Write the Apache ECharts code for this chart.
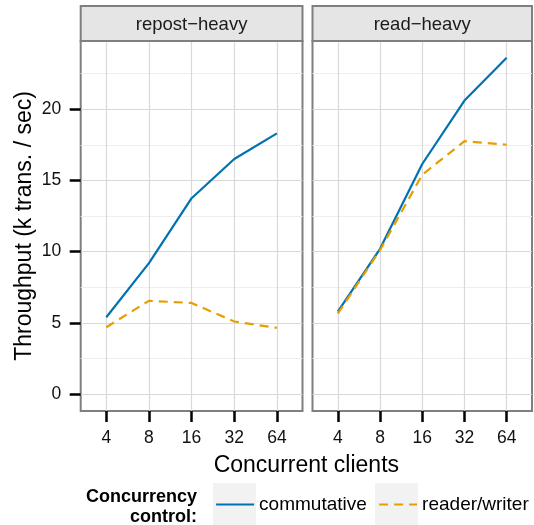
<!DOCTYPE html>
<html><head><meta charset="utf-8">
<script src="https://cdn.jsdelivr.net/npm/echarts@6/dist/echarts.min.js"></script>
<style>html,body{margin:0;padding:0;background:#fff}#c{width:534px;height:525px}</style>
</head><body><div id="c"></div>
<script>
// ---- data ----
const clients = ['4', '8', '16', '32', '64'];
const panels = ['repost\u2212heavy', 'read\u2212heavy'];
const seriesNames = ['commutative', 'reader/writer'];
const repostCommutative = [5.4, 9.2, 13.75, 16.5, 18.3];
const repostReaderWriter = [4.7, 6.55, 6.4, 5.1, 4.65];
const readCommutative = [5.8, 10.2, 16.15, 20.6, 23.6];
const readReaderWriter = [5.65, 10.1, 15.4, 17.75, 17.5];
const yTicks = [0, 5, 10, 15, 20];
const yMinorTicks = [2.5, 7.5, 12.5, 17.5, 22.5];
const yTitle = 'Throughput (k trans. / sec)';
const xTitle = 'Concurrent clients';
const legendTitle = 'Concurrency\ncontrol:';

// ---- styling ----
const FONT = "'Liberation Sans', Arial, Helvetica, sans-serif";
const BLUE = '#0072B2', ORANGE = '#E69F00';
const grids = [
  { left: 80.7, top: 41, width: 221.8, height: 370 },
  { left: 312.5, top: 41, width: 219.5, height: 370 }
];
const Y_MIN = -1.18, Y_MAX = 24.78;
const xIdx = clients.map((c, i) => i);
const pts = vals => vals.map((v, i) => [i, v]);
const panelData = [[repostCommutative, repostReaderWriter], [readCommutative, readReaderWriter]];

const chart = echarts.init(document.getElementById('c'), null, { renderer: 'canvas' });

const xAxis = grids.map((g, k) => ({
  gridIndex: k, type: 'value', min: -0.6, max: 4.6,
  axisLine: { show: false, onZero: false },
  axisTick: { show: true, length: 11, customValues: xIdx, lineStyle: { color: '#000', width: 2.5 } },
  axisLabel: { customValues: xIdx, formatter: v => clients[Math.round(v)], margin: 18,
    fontSize: 17.5, color: '#111', fontFamily: FONT },
  splitLine: { show: true, lineStyle: { color: '#d9d9d9', width: 1.2 } }
}));

const yAxis = [];
grids.forEach((g, k) => {
  yAxis.push({
    gridIndex: k, type: 'value', min: Y_MIN, max: Y_MAX,
    axisLine: { show: false, onZero: false },
    axisTick: { show: k === 0, length: 11, customValues: yTicks, lineStyle: { color: '#000', width: 2.5 } },
    axisLabel: { show: k === 0, customValues: yTicks, margin: 19.5, fontSize: 17.5, color: '#111', fontFamily: FONT },
    splitLine: { show: true, lineStyle: { color: '#d9d9d9', width: 1.2 } },
    name: k === 0 ? yTitle : '', nameLocation: 'middle', nameGap: 45, nameRotate: 90,
    nameTextStyle: { fontSize: 23, color: '#000', fontFamily: FONT }
  });
});
grids.forEach((g, k) => {
  yAxis.push({
    gridIndex: k, type: 'value', min: Y_MIN, max: Y_MAX, position: 'left',
    axisLine: { show: false, onZero: false },
    axisTick: { show: false, customValues: yMinorTicks },
    axisLabel: { show: false, customValues: yMinorTicks },
    splitLine: { show: true, lineStyle: { color: '#eeeeee', width: 1.2 } }
  });
});

const series = [];
grids.forEach((g, k) => {
  series.push({
    type: 'line', name: seriesNames[0], xAxisIndex: k, yAxisIndex: k, data: pts(panelData[k][0]),
    symbol: 'none', lineStyle: { color: BLUE, width: 2.2 }, itemStyle: { color: BLUE }, z: 5
  });
  series.push({
    type: 'line', name: seriesNames[1], xAxisIndex: k, yAxisIndex: k, data: pts(panelData[k][1]),
    symbol: 'none', lineStyle: { color: ORANGE, width: 2.2, type: [9, 6] }, itemStyle: { color: ORANGE }, z: 5
  });
});

const legendCommon = {
  top: 495, itemWidth: 38, itemHeight: 14, selectedMode: false, padding: 0,
  itemStyle: { opacity: 0 },
  lineStyle: { width: 2.2 },
  textStyle: { fontSize: 19, color: '#000', fontFamily: FONT }
};

const graphic = [];
grids.forEach((g, k) => {
  graphic.push({
    type: 'rect', z: 10,
    shape: { x: g.left, y: 6, width: g.width, height: g.top - 6 },
    style: { fill: '#e5e5e5', stroke: '#7f7f7f', lineWidth: 2 }
  });
  graphic.push({
    type: 'text', z: 11, x: g.left + g.width / 2, y: (6 + g.top) / 2 + 1,
    style: { text: panels[k], fill: '#1a1a1a', font: '18.5px ' + FONT, textAlign: 'center', textVerticalAlign: 'middle' }
  });
});
graphic.push({
  type: 'text', z: 11, x: (grids[0].left + grids[1].left + grids[1].width) / 2, y: 466,
  style: { text: xTitle, fill: '#000', font: '23px ' + FONT, textAlign: 'center', textVerticalAlign: 'middle' }
});
graphic.push({ type: 'rect', z: 12, shape: { x: 150, y: 472.5, width: 320, height: 10 }, style: { fill: '#fff' } });
[[213, 43], [375, 43]].forEach(([x, w]) => {
  graphic.push({ type: 'rect', z: 1, shape: { x: x, y: 483, width: w, height: 45 }, style: { fill: '#f2f2f2' } });
});
graphic.push({
  type: 'text', z: 11, x: 197, y: 507,
  style: { text: legendTitle, fill: '#000', font: 'bold 18px ' + FONT, textAlign: 'right', textVerticalAlign: 'middle', lineHeight: 20 }
});

chart.setOption({
  animation: false,
  backgroundColor: '#fff',
  grid: grids.map(g => Object.assign({}, g, { show: true, backgroundColor: '#fff', borderColor: '#7f7f7f', borderWidth: 2 })),
  xAxis, yAxis, series,
  legend: [
    Object.assign({ data: [seriesNames[0]], left: 215 }, legendCommon),
    Object.assign({ data: [seriesNames[1]], left: 378 }, legendCommon)
  ],
  graphic
});
</script></body></html>
